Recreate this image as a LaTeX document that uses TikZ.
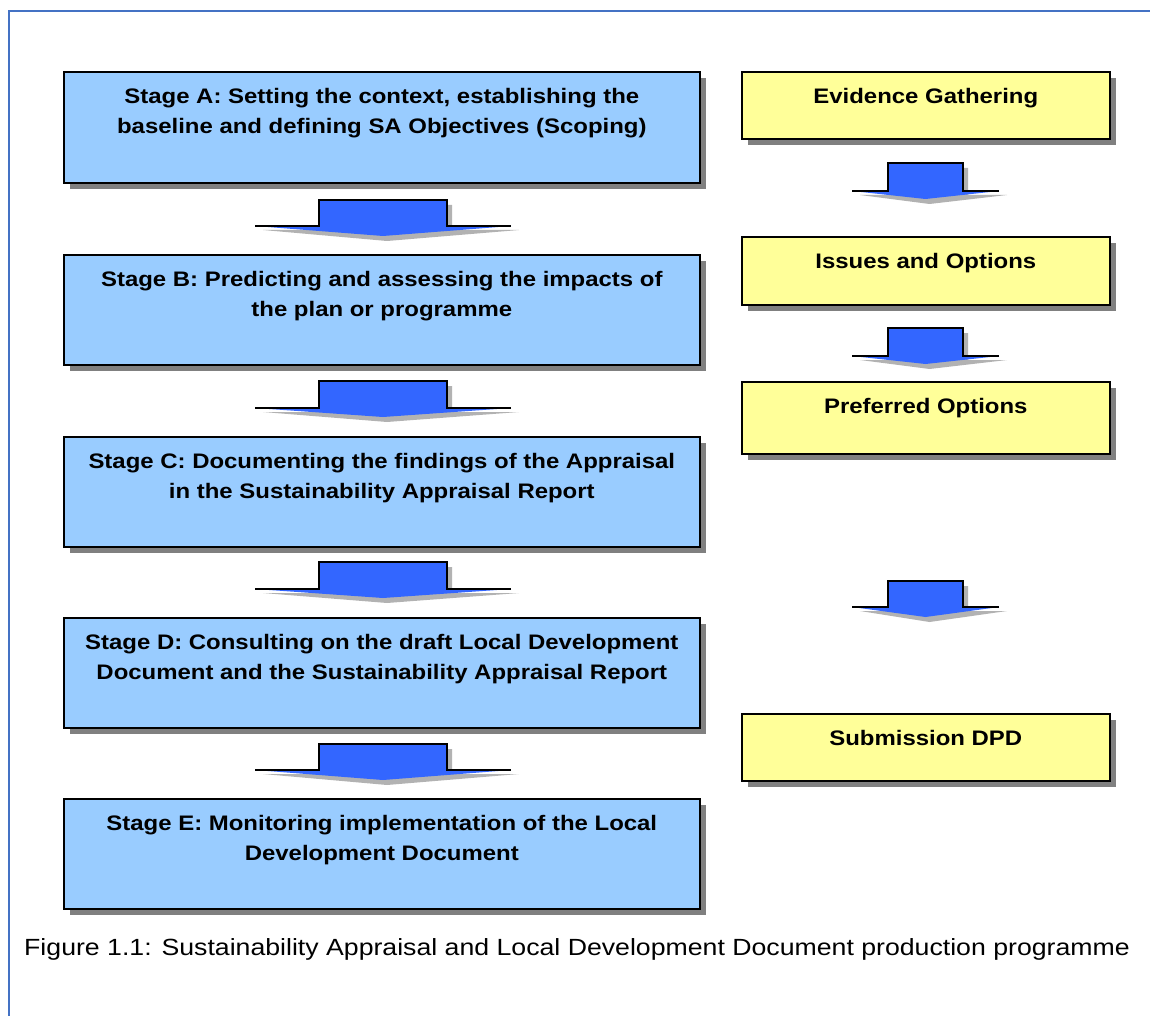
\documentclass[tikz,border=0pt]{standalone}
\usepackage{fontspec}
\setmainfont{Liberation Sans}[FakeStretch=1.14]
\usetikzlibrary{shadows}
\definecolor{stageblue}{HTML}{99CCFF}
\definecolor{boxyellow}{HTML}{FFFF99}
\definecolor{arrowblue}{HTML}{3366FF}
\definecolor{framebl}{HTML}{4472C4}
\definecolor{shadegray}{HTML}{808080}
\tikzset{
  basebox/.style={draw=black, line width=1.6pt, inner sep=0pt, anchor=north west,
    drop shadow={shadow xshift=6pt, shadow yshift=-6pt, fill=shadegray, opacity=1}},
  stagebox/.style={basebox, fill=stageblue, minimum width=636pt, minimum height=110pt},
  sidebox/.style={basebox, fill=boxyellow, minimum width=368pt},
  boxtext/.style={anchor=north, inner sep=0pt, align=center,
    font=\bfseries\fontsize{21}{30}\selectfont},
  arrowfill/.style={fill=arrowblue},
  arrowline/.style={draw=black, line width=1.6pt, line join=miter},
  arrowshadow/.style={fill=shadegray, opacity=0.6},
}
% #1 centre x, #2 top y, #3 half rect width, #4 half wing width, #5 wing y, #6 tip y
\newcommand\blockarr[6]{%
  \fill[arrowshadow] ({#1-#4+8},{#5+4}) -- ({#1-#3+5},{#5+4}) -- ({#1-#3+5},{#2+5}) -- ({#1+#3+5},{#2+5})
     -- ({#1+#3+5},{#5+4}) -- ({#1+#4+8},{#5+4}) -- ({#1+4},{#6+5}) -- cycle;
  \fill[arrowfill] ({#1-#4},{#5}) -- ({#1-#3},{#5}) -- ({#1-#3},{#2}) -- ({#1+#3},{#2})
     -- ({#1+#3},{#5}) -- ({#1+#4},{#5}) -- ({#1},{#6}) -- cycle;
  \draw[arrowline] ({#1-#4},{#5}) -- ({#1-#3},{#5}) -- ({#1-#3},{#2}) -- ({#1+#3},{#2})
     -- ({#1+#3},{#5}) -- ({#1+#4},{#5});
}
\begin{document}
\begin{tikzpicture}[x=1pt,y=-1pt]
\useasboundingbox[fill=white] (0,0) rectangle (1150,1016);
\draw[framebl, line width=2pt] (9,1016) -- (9,11) -- (1150,11);

% left column
\node[stagebox, minimum height=111pt] (A) at (63,71) {};
\node[stagebox] (B) at (63,254) {};
\node[stagebox] (C) at (63,436) {};
\node[stagebox] (D) at (63,617) {};
\node[stagebox] (E) at (63,798) {};

\path (A.north) ++(0,17) node[boxtext] (tA) {Stage A: Setting the context, establishing the\\baseline and defining SA Objectives (Scoping)};
\path (B.north) ++(0,17) node[boxtext] (tB) {Stage B: Predicting and assessing the impacts of\\the plan or programme};
\path (C.north) ++(0,17) node[boxtext] (tC) {Stage C: Documenting the findings of the Appraisal\\in the Sustainability Appraisal Report};
\path (D.north) ++(0,17) node[boxtext] (tD) {Stage D: Consulting on the draft Local Development\\Document and the Sustainability Appraisal Report};
\path (E.north) ++(0,17) node[boxtext] (tE) {Stage E: Monitoring implementation of the Local\\Development Document};

% right column
\node[sidebox, minimum height=67pt] (R1) at (741,71) {};
\node[sidebox, minimum height=68pt] (R2) at (741,236) {};
\node[sidebox, minimum height=72pt] (R3) at (741,381) {};
\node[sidebox, minimum height=67pt] (R4) at (741,713) {};

\path (R1.north) ++(0,17) node[boxtext] (tR1) {Evidence Gathering};
\path (R2.north) ++(0,17) node[boxtext] (tR2) {Issues and Options};
\path (R3.north) ++(0,17) node[boxtext] (tR3) {Preferred Options};
\path (R4.north) ++(0,17) node[boxtext] (tR4) {Submission DPD};

% block arrows, left
\blockarr{383}{200}{64}{128}{226}{236}
\blockarr{383}{381}{64}{128}{408}{417}
\blockarr{383}{562}{64}{128}{589}{598}
\blockarr{383}{744}{64}{128}{770}{780}
% block arrows, right
\blockarr{925.5}{163}{37.5}{73.5}{191}{199}
\blockarr{925.5}{328}{37.5}{73.5}{356}{364}
\blockarr{925.5}{581}{37.5}{73.5}{607}{617}

\node[anchor=base west, inner sep=0pt, font=\fontsize{23.4}{28}\selectfont] (cap) at (24,955)
  {Figure 1.1: Sustainability Appraisal and Local Development Document production programme};
\end{tikzpicture}
\end{document}
